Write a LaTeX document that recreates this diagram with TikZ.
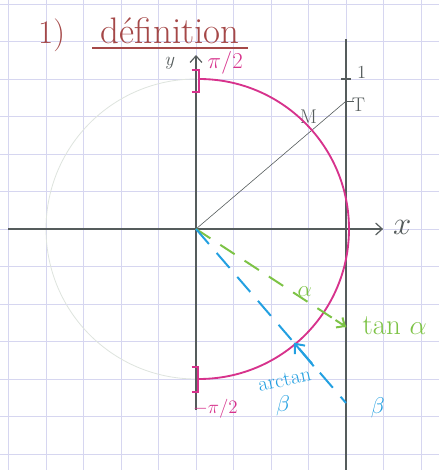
\documentclass[tikz,border=0pt]{standalone}
\usetikzlibrary{arrows.meta,calc}
\definecolor{gridc}{RGB}{214,214,240}
\definecolor{axisc}{RGB}{85,92,92}
\definecolor{titlec}{RGB}{165,72,72}
\definecolor{magc}{RGB}{215,50,140}
\definecolor{greenc}{RGB}{125,195,70}
\definecolor{bluec}{RGB}{35,160,225}
\definecolor{faintc}{RGB}{222,228,222}
\tikzset{
  gridline/.style={gridc, line width=0.6pt},
  axisline/.style={axisc, line width=0.9pt},
  thinline/.style={axisc, line width=0.45pt},
  barb/.style={-{Straight Barb[length=5pt,width=9pt,line width=0.9pt]}},
  magline/.style={magc, line width=1.4pt},
  greendash/.style={greenc, line width=1.5pt, dash pattern=on 13pt off 9pt},
  bluedash/.style={bluec, line width=1.5pt, dash pattern=on 15pt off 9pt},
  lbl/.style={inner sep=0pt},
}
\begin{document}
\begin{tikzpicture}
\useasboundingbox (-5.227,-6.427) rectangle (6.48,6.107);
\fill[white] (-5.227,-6.427) rectangle (6.48,6.107);
% graph paper
\foreach \i in {-5,...,6} \draw[gridline] (\i,-6.427) -- (\i,6.107);
\foreach \j in {-6,...,6} \draw[gridline] (-5.227,\j) -- (6.48,\j);

% key points
\coordinate (O) at (0,0);
\coordinate (T) at (4,3.41);
\coordinate (M) at (40.45:4);
\coordinate (Ytop) at (0,4.64);
\coordinate (Ybot) at (0,-4.83);
\coordinate (Xl) at (-5.01,0);
\coordinate (Xr) at (4.99,0);
\coordinate (Vtop) at (4,5.07);
\coordinate (Vbot) at (4,-6.427);
\coordinate (Ga) at (4,-2.61);
\coordinate (Bb) at (4,-4.64);
\coordinate (P) at (-49.24:4);
\coordinate (Pa) at (3.14,-3.66);

% title
\node[lbl, text=titlec, font=\fontsize{25}{25}\selectfont] (num) at (-3.85,5.17) {1)};
\node[lbl, text=titlec, font=\fontsize{28}{28}\selectfont] (title) at (-0.69,5.3) {définition};
\coordinate (U1) at (-2.77,4.83);
\coordinate (U2) at (1.39,4.83);
\draw[titlec, line width=1.4pt] (U1) -- (U2);

% faint left half circle
\draw[faintc, line width=0.6pt] (0,4) arc (90:270:4);

% axes
\draw[axisline, barb] (Ybot) -- (Ytop);
\draw[axisline, barb] (Xl) -- (Xr);
\draw[axisline] (Vbot) -- (Vtop);
\draw[axisline] (3.86,4) -- (4.14,4);
\node[lbl, text=axisc, font=\fontsize{15}{15}\selectfont] (ylab) at (-0.69,4.42) {$y$};
\node[lbl, text=axisc, font=\fontsize{23}{23}\selectfont] (xlab) at (5.5,0.05) {$x$};
\node[lbl, text=axisc, font=\fontsize{14}{14}\selectfont] (one) at (4.42,4.18) {1};

% OT line
\draw[thinline] (O) -- (T);
\draw[axisline] (T) -- ++(0.2,0);
\node[lbl, text=axisc, font=\fontsize{15}{15}\selectfont] (tlab) at (4.33,3.3) {T};
\node[lbl, text=axisc, font=\fontsize{15}{15}\selectfont] (mlab) at (3.0,3.0) {M};

% magenta half circle and brackets
\draw[magline] (0.08,4) arc (90:-90:4);
\draw[magline] (-0.12,4.24) -- (0.08,4.24) -- (0.08,3.65) -- (-0.12,3.65);
\draw[magline] (-0.12,-3.68) -- (0.05,-3.68) -- (0.05,-4.35) -- (-0.12,-4.35);
\node[lbl, text=magc, font=\fontsize{18}{18}\selectfont] (pih) at (0.78,4.43) {$\pi/2$};
\node[lbl, text=magc, font=\fontsize{14}{14}\selectfont] (mpih) at (0.52,-4.8) {$-\pi/2$};

% green: tan alpha
\draw[greendash] (O) -- (Ga);
\draw[greenc, line width=1.5pt, -{Straight Barb[length=5pt,width=9pt,line width=1.5pt]}] ($(O)!0.93!(Ga)$) -- (Ga);
\node[lbl, text=greenc, font=\fontsize{16}{16}\selectfont] (alab) at (2.9,-1.68) {$\alpha$};
\node[lbl, text=greenc, font=\fontsize{22}{22}\selectfont] (tanlab) at (5.3,-2.58) {tan $\alpha$};

% blue: arctan beta
\draw[bluedash] (O) -- (Bb);
\draw[bluec, line width=1.5pt, -{Straight Barb[length=6pt,width=10pt,line width=1.5pt]}] (Pa) -- (P);
\node[lbl, text=bluec, font=\fontsize{18}{18}\selectfont] (blab) at (4.85,-4.77) {$\beta$};
\node[lbl, text=bluec, font=\fontsize{16}{16}\selectfont, rotate=12] (arct) at (2.36,-4.02) {arctan};
\node[lbl, text=bluec, font=\fontsize{16}{16}\selectfont] (arcb) at (2.32,-4.72) {$\beta$};
\end{tikzpicture}
\end{document}
